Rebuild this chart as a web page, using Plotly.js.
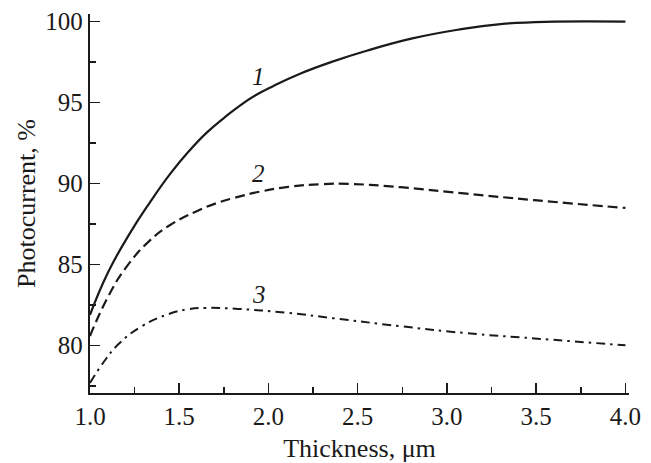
<!DOCTYPE html>
<html>
<head>
<meta charset="utf-8">
<script src="https://cdn.plot.ly/plotly-3.0.1.min.js"></script>
<style>html,body{margin:0;padding:0;background:#fff;}#chart{width:651px;height:463px;}</style>
</head>
<body>
<div id="chart"></div>
<script>
// Curve 1 (solid)
const x1 = [1.0, 1.1, 1.224, 1.336, 1.449, 1.55, 1.654, 1.75, 1.84, 1.93, 2.028, 2.18, 2.35, 2.55, 2.8, 3.06, 3.3, 3.6, 4.0];
const y1 = [81.9, 84.5, 86.95, 88.85, 90.6, 91.95, 93.15, 94.05, 94.82, 95.47, 96.03, 96.8, 97.5, 98.2, 98.95, 99.5, 99.85, 100.0, 100.0];
// Curve 2 (dashed)
const x2 = [1.0, 1.1, 1.2, 1.336, 1.449, 1.598, 1.71, 1.804, 1.95, 2.11, 2.3, 2.46, 2.74, 3.11, 3.49, 4.0];
const y2 = [80.6, 83.0, 84.8, 86.5, 87.45, 88.3, 88.8, 89.11, 89.5, 89.8, 89.97, 89.98, 89.78, 89.38, 88.98, 88.5];
// Curve 3 (dash-dot)
const x3 = [1.0, 1.084, 1.16, 1.29, 1.44, 1.55, 1.644, 1.83, 2.11, 2.36, 2.74, 3.11, 3.49, 4.0];
const y3 = [77.7, 79.1, 80.1, 81.2, 81.95, 82.25, 82.33, 82.27, 82.02, 81.7, 81.2, 80.77, 80.45, 80.02];
const curveLabels = ["1", "2", "3"];
const xTickVals = [1.0, 1.5, 2.0, 2.5, 3.0, 3.5, 4.0];
const xTickText = ["1.0", "1.5", "2.0", "2.5", "3.0", "3.5", "4.0"];
const yTickVals = [80, 85, 90, 95, 100];
const yTickText = ["80", "85", "90", "95", "100"];

const FONT = "Liberation Serif, Times New Roman, serif";
const ink = "#1a1a1a";

const traces = [
  {x: x1, y: y1, mode: "lines", line: {color: ink, width: 2.2, shape: "spline", smoothing: 1.3}},
  {x: x2, y: y2, mode: "lines", line: {color: ink, width: 2.2, dash: "10px,5px", shape: "spline", smoothing: 1.3}},
  {x: x3, y: y3, mode: "lines", line: {color: ink, width: 2, dash: "9px,5px,2.5px,5px", shape: "spline", smoothing: 1.3}}
];

const labelFont = {family: FONT, size: 25, color: ink};
const layout = {
  width: 651, height: 463,
  margin: {l: 90, r: 22, t: 14, b: 70},
  paper_bgcolor: "#fff", plot_bgcolor: "#fff",
  showlegend: false,
  font: {family: FONT, color: ink, size: 25},
  xaxis: {
    range: [1, 4.02], showgrid: false, zeroline: false,
    showline: true, linecolor: ink, linewidth: 2.2,
    ticks: "inside", ticklen: 10, tickwidth: 1.5, tickcolor: ink,
    tickvals: xTickVals, ticktext: xTickText,
    tickfont: {family: FONT, size: 25, color: ink},
    minor: {ticks: "inside", ticklen: 6, tickwidth: 1.5, tickcolor: ink, dtick: 0.25, tick0: 1},
    title: {text: "Thickness, μm", font: {family: FONT, size: 26, color: ink}, standoff: 13}
  },
  yaxis: {
    range: [77.08, 100.47], showgrid: false, zeroline: false,
    showline: true, linecolor: ink, linewidth: 2.2,
    ticks: "inside", ticklen: 10, tickwidth: 1.5, tickcolor: ink,
    tickvals: yTickVals, ticktext: yTickText,
    tickfont: {family: FONT, size: 25, color: ink},
    minor: {ticks: "inside", ticklen: 6, tickwidth: 1.5, tickcolor: ink, dtick: 2.5, tick0: 80},
    title: {text: "Photocurrent, %", font: {family: FONT, size: 26, color: ink}, standoff: 2}
  },
  annotations: [
    {x: 1.945, y: 96.6, text: "<i>" + curveLabels[0] + "</i>", showarrow: false, font: labelFont, xanchor: "center", yanchor: "middle"},
    {x: 1.945, y: 90.64, text: "<i>" + curveLabels[1] + "</i>", showarrow: false, font: labelFont, xanchor: "center", yanchor: "middle"},
    {x: 1.945, y: 83.13, text: "<i>" + curveLabels[2] + "</i>", showarrow: false, font: labelFont, xanchor: "center", yanchor: "middle"}
  ]
};

Plotly.newPlot("chart", traces, layout, {displayModeBar: false, staticPlot: true});
</script>
</body>
</html>
